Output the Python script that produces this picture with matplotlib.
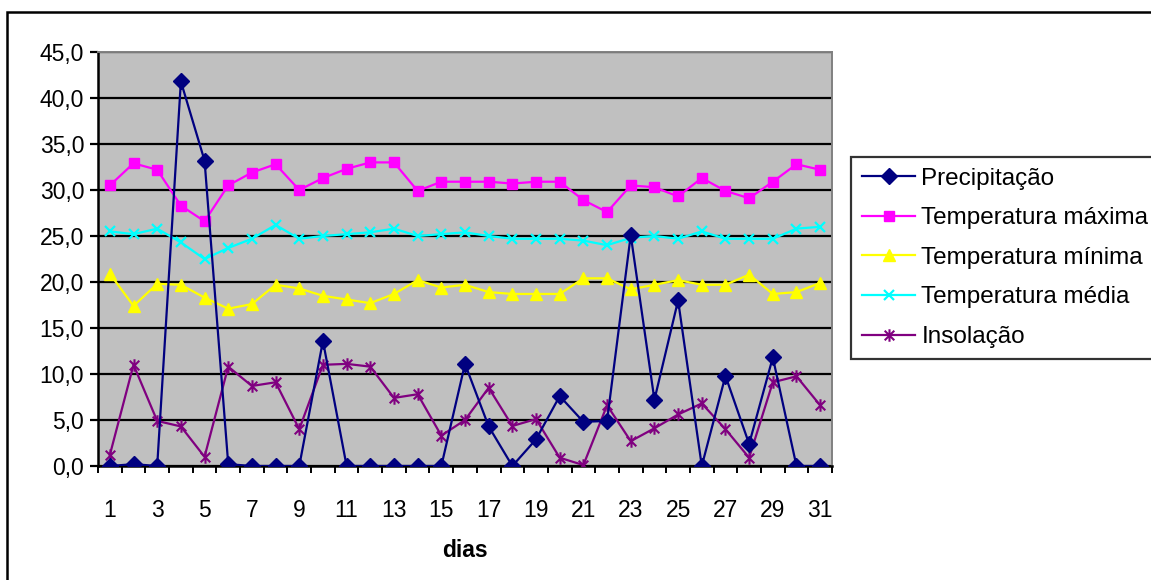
import numpy as np
import matplotlib
matplotlib.use("Agg")
import matplotlib.pyplot as plt
from matplotlib.path import Path
from matplotlib.patches import Rectangle
from matplotlib.ticker import FuncFormatter, FixedLocator

plt.rcParams['font.family'] = ['Liberation Sans', 'DejaVu Sans']

dias = list(range(1, 32))

precipitacao = [0.0, 0.2, 0.0, 41.8, 33.2, 0.2, 0.0, 0.0, 0.0, 13.6,
                0.0, 0.0, 0.0, 0.0, 0.0, 11.1, 4.3, 0.0, 2.9, 7.6,
                4.8, 4.9, 25.1, 7.2, 18.0, 0.0, 9.8, 2.4, 11.8, 0.0, 0.0]
temp_max = [30.5, 32.9, 32.2, 28.3, 26.6, 30.5, 31.9, 32.8, 30.0, 31.3,
            32.3, 33.0, 33.0, 29.9, 30.9, 30.9, 30.9, 30.7, 30.9, 30.9,
            28.9, 27.6, 30.5, 30.3, 29.3, 31.3, 29.9, 29.1, 30.9, 32.8, 32.2]
temp_min = [20.9, 17.4, 19.8, 19.7, 18.3, 17.1, 17.6, 19.7, 19.3, 18.5,
            18.1, 17.7, 18.7, 20.2, 19.4, 19.7, 18.9, 18.7, 18.7, 18.7,
            20.4, 20.4, 19.2, 19.7, 20.2, 19.7, 19.7, 20.8, 18.7, 18.9, 19.9]
temp_med = [25.5, 25.2, 25.8, 24.3, 22.5, 23.7, 24.7, 26.2, 24.7, 25.0,
            25.2, 25.4, 25.8, 25.0, 25.2, 25.4, 25.0, 24.7, 24.7, 24.7,
            24.5, 24.0, 24.8, 25.0, 24.7, 25.5, 24.7, 24.7, 24.7, 25.8, 26.0]
insolacao = [1.2, 11.0, 4.9, 4.3, 1.0, 10.8, 8.7, 9.1, 4.0, 11.0,
             11.1, 10.8, 7.4, 7.8, 3.3, 5.0, 8.5, 4.35, 5.1, 0.9,
             0.1, 6.6, 2.7, 4.1, 5.6, 6.8, 4.0, 0.9, 9.1, 9.75, 6.6]

# excel style star marker: an x with a vertical stroke
star = Path([(-1, -1), (1, 1), (-1, 1), (1, -1), (0, -1.3), (0, 1.3)],
            [Path.MOVETO, Path.LINETO, Path.MOVETO, Path.LINETO, Path.MOVETO, Path.LINETO])

fig = plt.figure(figsize=(11.51, 5.80), dpi=100)
W, H = 1151, 580
ax = fig.add_axes([98 / W, 1 - 466 / H, (832 - 98) / W, (466 - 52) / H])
ax.set_facecolor('#C0C0C0')

ax.plot(dias, precipitacao, color='#000080', lw=1.6, marker='D', ms=8,
        label='Precipitação', zorder=5)
ax.plot(dias, temp_max, color='#FF00FF', lw=1.6, marker='s', ms=7.5,
        label='Temperatura máxima', zorder=4)
ax.plot(dias, temp_min, color='#FFFF00', lw=1.6, marker='^', ms=9,
        label='Temperatura mínima', zorder=4)
ax.plot(dias, temp_med, color='#00FFFF', lw=1.6, marker='x', ms=7, mew=1.6,
        label='Temperatura média', zorder=4)
ax.plot(dias, insolacao, color='#800080', lw=1.6, marker=star, ms=9, mew=1.5,
        mfc='none', label='Insolação', zorder=4)

ax.set_xlim(0.5, 31.5)
ax.set_ylim(0, 45)
ax.set_yticks(np.arange(0, 46, 5))
ax.yaxis.set_major_formatter(FuncFormatter(lambda v, p: f'{v:.1f}'.replace('.', ',')))
ax.yaxis.grid(True, color='black', lw=1.6)
ax.set_axisbelow(True)
ax.tick_params(axis='y', direction='out', length=6, width=1.6, labelsize=16.5, pad=4)

ax.xaxis.set_major_locator(FixedLocator(list(range(1, 32, 2))))
ax.xaxis.set_minor_locator(FixedLocator(np.arange(0.5, 32, 1)))
ax.tick_params(axis='x', which='major', length=0, labelsize=16.5, pad=24)
ax.tick_params(axis='x', which='minor', direction='out', length=5, width=1.4)

for s in ['top', 'right']:
    ax.spines[s].set_color('#808080')
    ax.spines[s].set_linewidth(1.4)
for s in ['left', 'bottom']:
    ax.spines[s].set_color('black')
    ax.spines[s].set_linewidth(1.8)

ax.set_xlabel('dias', fontsize=16.5, fontweight='bold', labelpad=12)

leg = fig.legend(loc='upper left', bbox_to_anchor=(851 / W, 1 - 157 / H),
                 fontsize=17.5, frameon=True, fancybox=False, edgecolor='black',
                 handlelength=2.2, handletextpad=0.25, labelspacing=0.72,
                 borderpad=0.45, borderaxespad=0)
leg.get_frame().set_linewidth(1.6)

# outer chart frame, runs off the right and bottom edges
fig.patches.append(Rectangle((7 / W, -0.1), 1.2, 1.1 - 11.5 / H,
                             transform=fig.transFigure, fill=False,
                             edgecolor='black', lw=1.8))

fig.savefig('out.png', dpi=100)
